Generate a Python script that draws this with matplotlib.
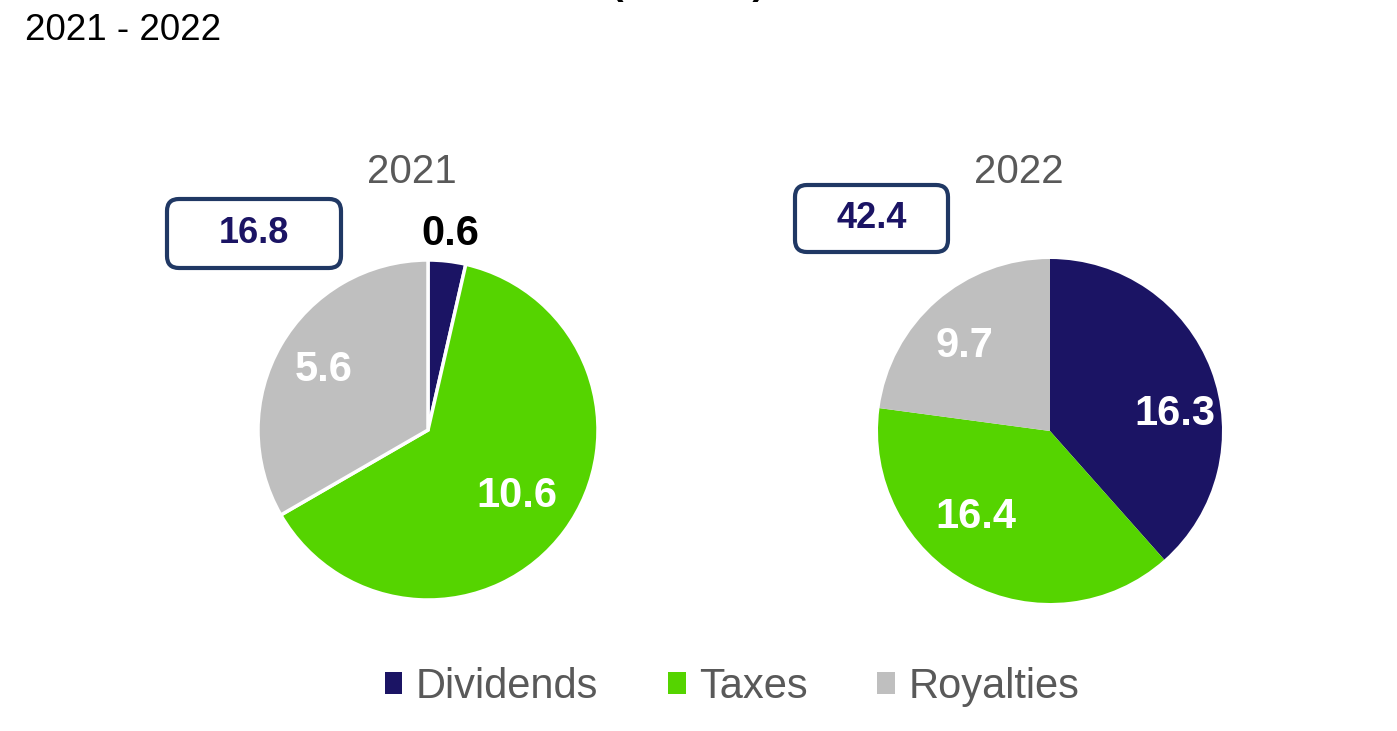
import matplotlib.pyplot as plt
from matplotlib.patches import FancyBboxPatch, Patch
import numpy as np

plt.rcParams['font.family'] = ['Liberation Sans', 'DejaVu Sans']

categories = ['Dividends', 'Taxes', 'Royalties']
years = ['2021', '2022']
values_2021 = [0.6, 10.6, 5.6]
values_2022 = [16.3, 16.4, 9.7]
totals = ['16.8', '42.4']
colors = ['#1B1464', '#55D400', '#BFBFBF']

W, H = 1397, 731
fig = plt.figure(figsize=(W / 100, H / 100), dpi=100)
ax = fig.add_axes([0, 0, 1, 1])

# label placement: (radius fraction, angle shift in degrees, text color)
lab_2021 = [(1.16, 0, 'black'), (0.65, 0, 'white'), (0.71, 0, 'white')]
lab_2022 = [(0.73, -13, 'white'), (0.66, -13, 'white'), (0.70, 4, 'white')]

pies = [
    (values_2021, (428, H - 430), 170, lab_2021, 'white'),
    (values_2022, (1050, H - 431), 172, lab_2022, 'none'),
]
for vals, center, r, labs, edge in pies:
    wedges, _ = ax.pie(vals, colors=colors, startangle=90, counterclock=False,
                       center=center, radius=r,
                       wedgeprops=dict(edgecolor=edge, linewidth=2.5))
    for w, v, (rf, shift, c) in zip(wedges, vals, labs):
        mid = np.deg2rad((w.theta1 + w.theta2) / 2 + shift)
        x = center[0] + rf * r * np.cos(mid)
        y = center[1] + rf * r * np.sin(mid)
        ax.text(x, y, f'{v:.1f}', ha='center', va='center', fontsize=30,
                fontweight='bold', color=c)

ax.set_xlim(0, W)
ax.set_ylim(0, H)
ax.set_aspect('equal')
ax.axis('off')

# year headings
ax.text(412, H - 172, years[0], ha='center', va='center', fontsize=29, color='#595959')
ax.text(1019, H - 172, years[1], ha='center', va='center', fontsize=29, color='#595959')

# total boxes
boxes = [(167, 199, 341, 268), (795, 185, 948, 252)]
for (x0, y0, x1, y1), t in zip(boxes, totals):
    p = FancyBboxPatch((x0 + 12, H - y1 + 12), (x1 - x0) - 24, (y1 - y0) - 24,
                       boxstyle='round,pad=12', fc='white', ec='#203864', lw=3)
    ax.add_patch(p)
    ax.text((x0 + x1) / 2, H - (y0 + y1) / 2, t, ha='center', va='center',
            fontsize=26, fontweight='bold', color='#1B1464')

# titles (main title sits mostly above the top edge, as in the source)
fig.text(688 / W, 1 + 6 / H, '(US$ bn)', ha='center', va='baseline',
         fontsize=27, fontweight='bold', color='black')
fig.text(25 / W, 1 - 40 / H, '2021 - 2022', ha='left', va='baseline',
         fontsize=26.5, color='black')

handles = [Patch(facecolor=c) for c in colors]
leg = fig.legend(handles, categories, loc='center', bbox_to_anchor=(732 / W, 1 - 687 / H),
                 ncol=3, frameon=False, fontsize=30, handlelength=0.42, handleheight=0.42,
                 handletextpad=0.32, columnspacing=1.68)
for t in leg.get_texts():
    t.set_color('#595959')

fig.savefig('out.png', dpi=100)
